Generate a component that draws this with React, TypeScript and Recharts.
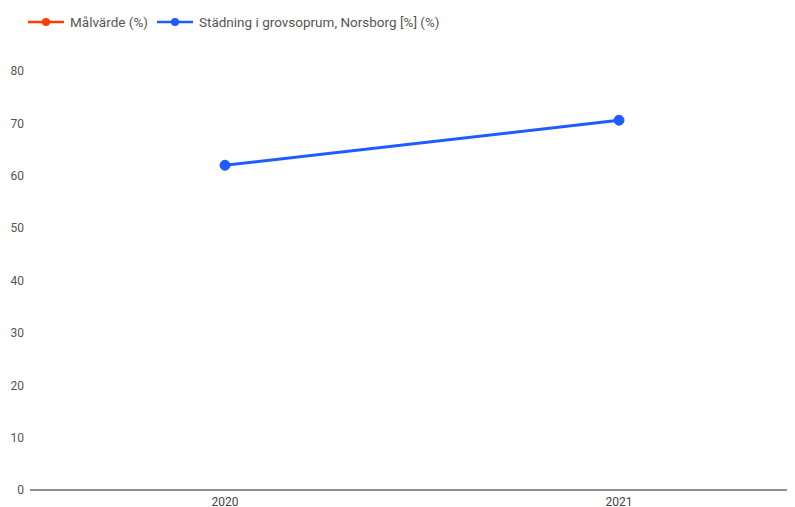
import React from 'react';
import { LineChart, Line, XAxis, YAxis, ReferenceLine } from 'recharts';

const years = ['2020', '2021'];
const stadning = [62, 70.6];
const malvarde: (number | null)[] = [null, null];
const yTicks = [0, 10, 20, 30, 40, 50, 60, 70, 80];

const data = years.map((year, i) => ({
  year,
  stadning: stadning[i],
  malvarde: malvarde[i],
}));

const FONT = 'Roboto, "Noto Sans", Arial, sans-serif';

const LegendItem = ({ color, label }: { color: string; label: string }) => (
  <div style={{ display: 'flex', alignItems: 'center', marginRight: 9 }}>
    <svg width={36} height={12} style={{ marginRight: 6 }}>
      <line x1={0} y1={6} x2={36} y2={6} stroke={color} strokeWidth={2.5} />
      <circle cx={18} cy={6} r={4} fill={color} />
    </svg>
    <span>{label}</span>
  </div>
);

const App = () => {
  return (
    <div style={{ position: 'relative', width: 787, height: 499, fontFamily: FONT }}>
      <div style={{ position: 'absolute', top: -8, left: -8, width: 738, height: 2, background: '#dfeaf6' }} />
      <div style={{ position: 'absolute', top: -8, left: 730, width: 57, height: 2, background: '#f4a035' }} />
      <div
        style={{
          position: 'absolute',
          top: 6,
          left: 20,
          display: 'flex',
          fontSize: 13.5,
          color: '#555',
        }}
      >
        <LegendItem color="#ff3d00" label="Målvärde (%)" />
        <LegendItem color="#1f5cff" label="Städning i grovsoprum, Norsborg [%] (%)" />
      </div>
      <LineChart width={787} height={499} data={data} margin={{ top: 63, right: 0, bottom: 0, left: 0 }}>
        <XAxis
          dataKey="year"
          padding={{ left: 195, right: 176 }}
          axisLine={{ stroke: '#888', strokeWidth: 1.5 }}
          tickLine={false}
          tickSize={0}
          tickMargin={7}
          height={17}
          tick={{ fontSize: 12, fill: '#444', fontFamily: FONT }}
        />
        <YAxis
          domain={[0, 80]}
          ticks={yTicks}
          width={22}
          axisLine={false}
          tickLine={false}
          tickSize={0}
          tickMargin={6}
          tick={{ fontSize: 12, fill: '#555', fontFamily: FONT }}
        />
        <ReferenceLine y={0} stroke="#888" strokeWidth={1.5} />
        <Line
          dataKey="malvarde"
          stroke="#ff3d00"
          strokeWidth={3}
          dot={{ r: 5, fill: '#ff3d00', stroke: '#ff3d00' }}
          isAnimationActive={false}
        />
        <Line
          dataKey="stadning"
          stroke="#1f5cff"
          strokeWidth={3}
          dot={{ r: 5, fill: '#1f5cff', stroke: '#1f5cff', strokeWidth: 1 }}
          isAnimationActive={false}
        />
      </LineChart>
    </div>
  );
};

export default App;
